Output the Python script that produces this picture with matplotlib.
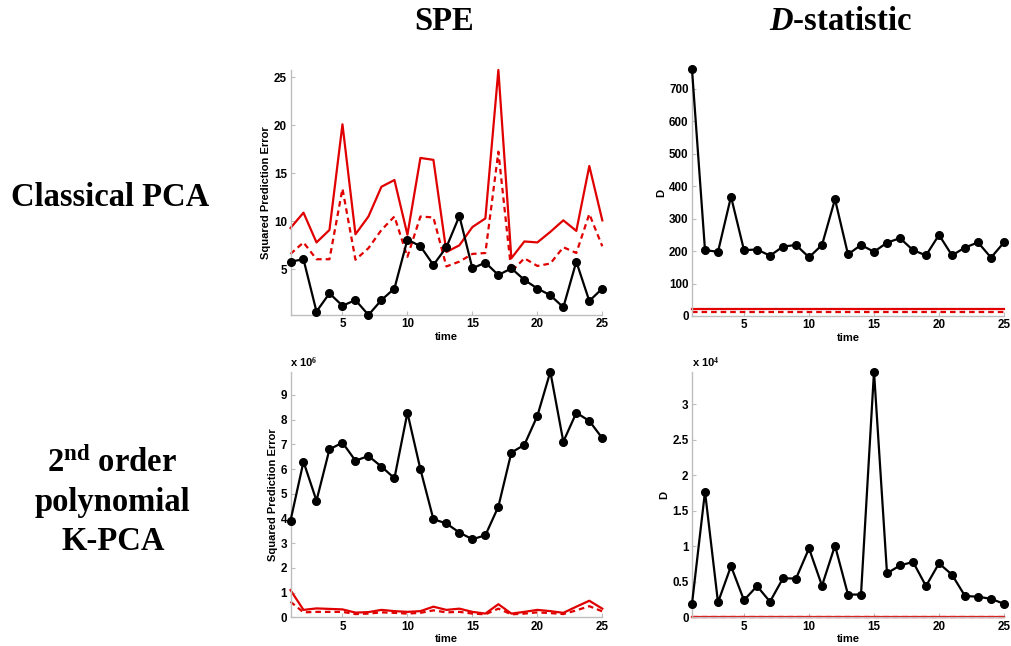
import matplotlib
matplotlib.use("Agg")
import matplotlib.pyplot as plt
from matplotlib.ticker import FormatStrFormatter
from matplotlib.font_manager import FontProperties
import numpy as np

plt.rcParams['mathtext.fontset'] = 'custom'
plt.rcParams['mathtext.rm'] = 'Liberation Serif:bold'
plt.rcParams['mathtext.bf'] = 'Liberation Serif:bold'
plt.rcParams['mathtext.it'] = 'Liberation Serif:italic:bold'

time = np.arange(1, 26)

# Classical PCA - SPE
pca_spe = [5.8, 6.04, 0.6, 2.5, 1.2, 1.8, 0.24, 1.8, 3.0, 8.1, 7.4, 5.45, 7.3,
           10.55, 5.1, 5.7, 4.4, 5.1, 3.9, 3.0, 2.3, 1.04, 5.8, 1.7, 3.0]
pca_spe_lim99 = [9.3, 10.9, 7.8, 9.1, 20.1, 8.65, 10.5, 13.6, 14.3, 8.6, 16.6, 16.4, 6.8,
                 7.5, 9.4, 10.3, 25.76, 6.15, 7.9, 7.8, 8.9, 10.1, 9.0, 15.76, 10.1]
pca_spe_lim95 = [6.6, 7.8, 6.05, 6.05, 13.4, 6.0, 7.2, 9.1, 10.5, 6.3, 10.5, 10.4, 5.3,
                 5.8, 6.6, 6.7, 17.25, 4.75, 6.15, 5.35, 5.6, 7.3, 6.7, 10.76, 7.4]

# Classical PCA - D statistic
pca_d = [760, 203, 198, 368, 203, 205, 186, 214, 219, 181, 219, 360, 190,
         219, 198, 226, 240, 203, 187, 250, 187, 211, 227, 180, 227]
pca_d_lim99 = 22
pca_d_lim95 = 12

# K-PCA - SPE (x 10^6)
kpca_spe = [3.91, 6.3, 4.72, 6.8, 7.07, 6.34, 6.53, 6.1, 5.63, 8.28, 5.99, 3.97, 3.8,
            3.43, 3.16, 3.32, 4.48, 6.67, 6.98, 8.15, 9.94, 7.11, 8.28, 7.95, 7.25]
kpca_spe_lim99 = [1.1, 0.3, 0.36, 0.34, 0.32, 0.19, 0.21, 0.3, 0.25, 0.22, 0.25, 0.43, 0.3,
                  0.35, 0.22, 0.15, 0.53, 0.15, 0.22, 0.3, 0.25, 0.18, 0.43, 0.67, 0.35]
kpca_spe_lim95 = [0.63, 0.2, 0.22, 0.22, 0.22, 0.13, 0.15, 0.2, 0.18, 0.15, 0.18, 0.28, 0.2,
                  0.22, 0.15, 0.12, 0.35, 0.12, 0.15, 0.2, 0.17, 0.13, 0.28, 0.45, 0.24]

# K-PCA - D statistic (x 10^4)
kpca_d = [0.19, 1.77, 0.21, 0.72, 0.24, 0.44, 0.22, 0.55, 0.545, 0.97, 0.445, 1.01, 0.32,
          0.32, 3.46, 0.62, 0.73, 0.78, 0.44, 0.76, 0.6, 0.3, 0.29, 0.26, 0.19]
kpca_d_lim99 = 0.004
kpca_d_lim95 = 0.002

W, H = 1011, 646
fig = plt.figure(figsize=(W / 100, H / 100), dpi=100)

def rect(l, r, t, b):
    return [l / W, (H - b) / H, (r - l) / W, (b - t) / H]

RED = '#e00000'
SPINE = '#bdbdbd'
tickfont = dict(family='Liberation Sans', weight='bold', size=8.4)
labelfont = dict(family='Liberation Sans', weight='bold', size=8)

def style(ax, ylim, yticks, ylabel):
    ax.set_xlim(1, 25)
    ax.set_ylim(*ylim)
    ax.set_xticks([5, 10, 15, 20, 25])
    ax.set_yticks(yticks)
    ax.yaxis.set_major_formatter(FormatStrFormatter('%g'))
    for s in ['top', 'right']:
        ax.spines[s].set_visible(False)
    for s in ['left', 'bottom']:
        ax.spines[s].set_color(SPINE)
        ax.spines[s].set_linewidth(1.0)
    ax.tick_params(direction='in', length=3, width=0.8, color=SPINE, pad=2.5)
    fp = FontProperties(**tickfont)
    for lab in ax.get_xticklabels() + ax.get_yticklabels():
        lab.set_fontproperties(fp)
    ax.set_xlabel('time', fontdict=labelfont, labelpad=1)
    ax.set_ylabel(ylabel, fontdict=labelfont, labelpad=2)

def plot_panel(ax, y, lim99, lim95):
    l99 = np.broadcast_to(np.asarray(lim99, dtype=float), time.shape)
    l95 = np.broadcast_to(np.asarray(lim95, dtype=float), time.shape)
    ax.plot(time, l99, color=RED, lw=1.6, clip_on=False)
    ax.plot(time, l95, color=RED, lw=1.6, ls=(0, (2.5, 1.8)), clip_on=False)
    ax.plot(time, y, color='black', lw=1.6, marker='o', ms=5.5, clip_on=False, zorder=5)

ax1 = fig.add_axes(rect(290.5, 602.3, 70, 315))
plot_panel(ax1, pca_spe, pca_spe_lim99, pca_spe_lim95)
style(ax1, (0.24, 25.76), [5, 10, 15, 20, 25], 'Squared Prediction Error')

ax2 = fig.add_axes(rect(692, 1004, 69.5, 316))
plot_panel(ax2, pca_d, pca_d_lim99, pca_d_lim95)
style(ax2, (0, 760), [0, 100, 200, 300, 400, 500, 600, 700], 'D')

ax3 = fig.add_axes(rect(290.5, 602.3, 371.5, 617.3))
plot_panel(ax3, kpca_spe, kpca_spe_lim99, kpca_spe_lim95)
style(ax3, (0, 9.95), [0, 1, 2, 3, 4, 5, 6, 7, 8, 9], 'Squared Prediction Error')
ax3.text(0.0, 1.005, r'x 10$^{6}$', transform=ax3.transAxes, ha='left', va='bottom',
         family='Liberation Sans', weight='bold', size=8)

ax4 = fig.add_axes(rect(692, 1004, 371.6, 617.3))
plot_panel(ax4, kpca_d, kpca_d_lim99, kpca_d_lim95)
style(ax4, (0, 3.46), [0, 0.5, 1, 1.5, 2, 2.5, 3], 'D')
ax4.text(0.0, 1.005, r'x 10$^{4}$', transform=ax4.transAxes, ha='left', va='bottom',
         family='Liberation Sans', weight='bold', size=8)

serif = dict(family='Liberation Serif', weight='bold', size=23.5)
fig.text(444 / W, 1 - 22 / H, 'SPE', ha='center', va='center', **serif)
fig.text(840 / W, 1 - 22 / H, r'$\mathit{D}$-statistic', ha='center', va='center', **serif)
fig.text(110.5 / W, 1 - 198 / H, 'Classical PCA', ha='center', va='center', **serif)
fig.text(112 / W, 1 - 463 / H, r'2$^{\mathrm{nd}}$ order', ha='center', va='center', **serif)
fig.text(112.5 / W, 1 - 502 / H, 'polynomial', ha='center', va='center', **serif)
fig.text(113 / W, 1 - 542 / H, 'K-PCA', ha='center', va='center', **serif)

fig.savefig('out.png', dpi=100)
